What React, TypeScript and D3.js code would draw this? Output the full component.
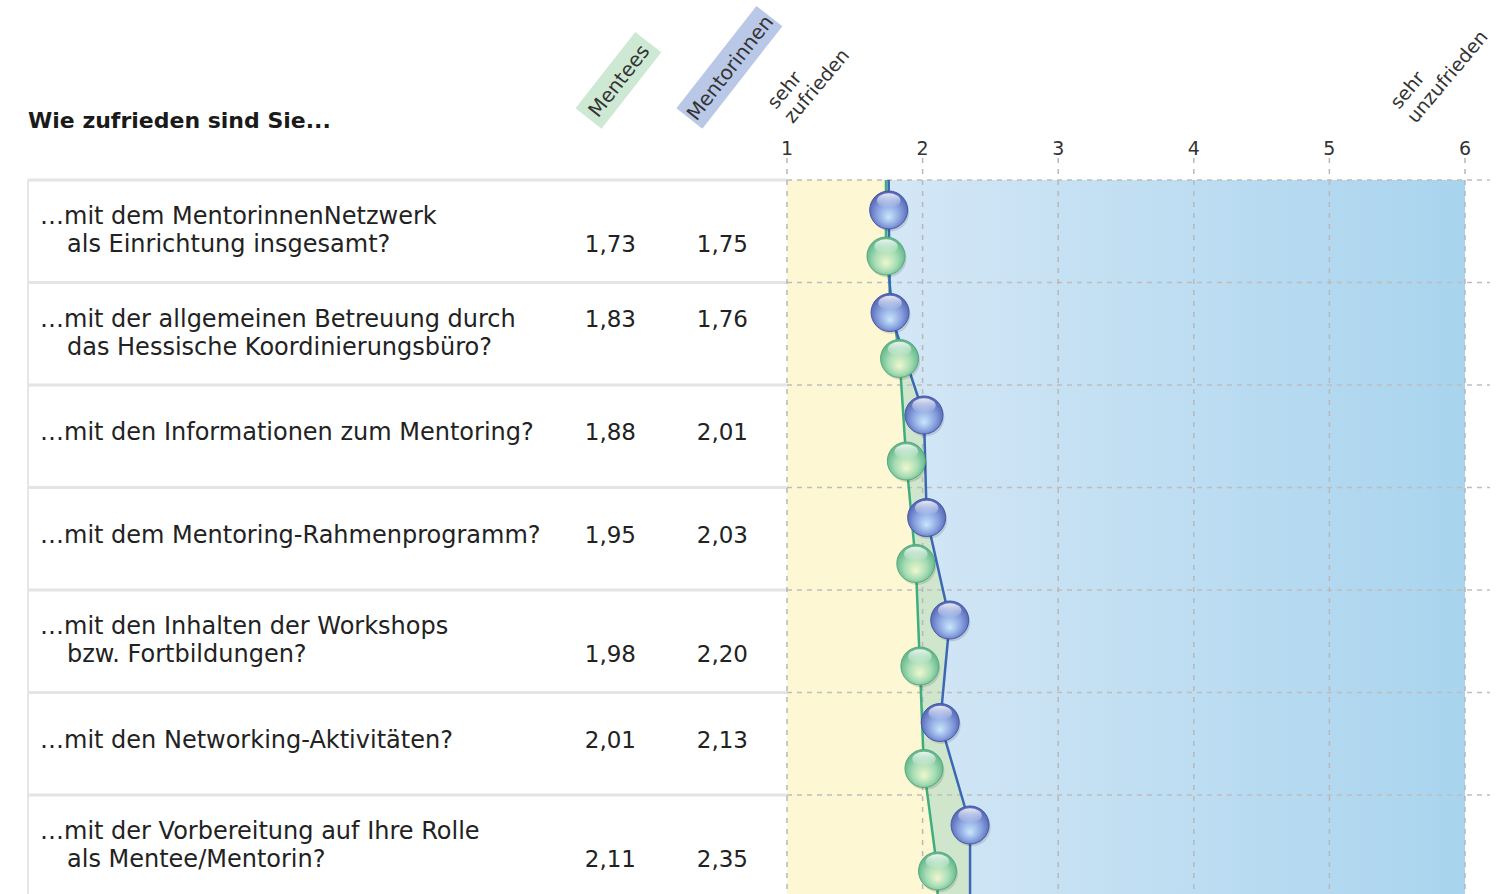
import React from 'react';
import * as d3 from 'd3';

const W = 1499;
const H = 894;

const title = 'Wie zufrieden sind Sie...';
const questions = [
  ['…mit dem MentorinnenNetzwerk', 'als Einrichtung insgesamt?'],
  ['…mit der allgemeinen Betreuung durch', 'das Hessische Koordinierungsbüro?'],
  ['…mit den Informationen zum Mentoring?'],
  ['…mit dem Mentoring-Rahmenprogramm?'],
  ['…mit den Inhalten der Workshops', 'bzw. Fortbildungen?'],
  ['…mit den Networking-Aktivitäten?'],
  ['…mit der Vorbereitung auf Ihre Rolle', 'als Mentee/Mentorin?'],
];
const menteesValues = [1.73, 1.83, 1.88, 1.95, 1.98, 2.01, 2.11];
const mentorinnenValues = [1.75, 1.76, 2.01, 2.03, 2.2, 2.13, 2.35];
const seriesNames = ['Mentees', 'Mentorinnen'];
const tickValues = [1, 2, 3, 4, 5, 6];
const scaleEnds = [['sehr', 'zufrieden'], ['sehr', 'unzufrieden']];
// which text line the numbers sit on
const valueLine = [1, 0, 0, 0, 1, 0, 1];

const FONT = '"DejaVu Sans", sans-serif';

const fmt = (v: number) => v.toFixed(2).replace('.', ',');

export default function App() {
  const x = d3.scaleLinear().domain([1, 6]).range([787, 1465]);
  const rows = d3.scaleBand<number>().domain(d3.range(questions.length)).range([180, 180 + 7 * 102.5]);
  const top = 180;
  const bottom = H;

  const bluePts: [number, number][] = [[x(mentorinnenValues[0]), top]];
  mentorinnenValues.forEach((v, i) => bluePts.push([x(v), rows(i)! + 30]));
  bluePts.push([x(mentorinnenValues[mentorinnenValues.length - 1]), bottom]);

  const greenPts: [number, number][] = [[x(menteesValues[0]), top]];
  menteesValues.forEach((v, i) => greenPts.push([x(v), rows(i)! + 76]));
  greenPts.push([x(menteesValues[menteesValues.length - 1]), bottom]);

  const line = d3.line();
  const yellowPoly = [[x(1), top] as [number, number], ...greenPts, [x(1), bottom] as [number, number]];
  const betweenPoly = [...greenPts, ...bluePts.slice().reverse()];

  const sep = d3.range(questions.length).map((i) => rows(i)!);

  return (
    <svg width={W} height={H} style={{ position: 'absolute', left: 0, top: 0, background: '#fff' }}>
      <defs>
        <linearGradient id="bg" x1="0" x2="1" y1="0" y2="0">
          <stop offset="0%" stopColor="#dbeaf7" />
          <stop offset="100%" stopColor="#a9d4ee" />
        </linearGradient>
        <radialGradient id="ballBlue" cx="50%" cy="55%" r="55%" fx="50%" fy="70%">
          <stop offset="0%" stopColor="#c9e6fb" />
          <stop offset="55%" stopColor="#8aa3e0" />
          <stop offset="100%" stopColor="#5062b2" />
        </radialGradient>
        <radialGradient id="ballGreen" cx="50%" cy="55%" r="55%" fx="50%" fy="70%">
          <stop offset="0%" stopColor="#eef7cf" />
          <stop offset="55%" stopColor="#a6dcb4" />
          <stop offset="100%" stopColor="#5bb386" />
        </radialGradient>
        <linearGradient id="hl" x1="0" x2="0" y1="0" y2="1">
          <stop offset="0%" stopColor="#fff" stopOpacity="0.85" />
          <stop offset="100%" stopColor="#fff" stopOpacity="0" />
        </linearGradient>
      </defs>

      {/* title */}
      <text x={28} y={128} fontFamily={FONT} fontWeight="bold" fontSize={22} fill="#1a1a1a">
        {title}
      </text>

      {/* series header boxes */}
      {seriesNames.map((name, i) => {
        const cx = i === 0 ? 618 : 729;
        const cy = i === 0 ? 80 : 67;
        const len = i === 0 ? 97 : 130;
        return (
          <g key={name} transform={`translate(${cx},${cy}) rotate(-52)`}>
            <rect x={-len / 2} y={-16} width={len} height={33} fill={i === 0 ? '#cde9d3' : '#bac8e8'} />
            <text x={0} y={8} textAnchor="middle" fontFamily={FONT} fontSize={20} fill="#333">
              {name}
            </text>
          </g>
        );
      })}

      {/* scale end labels */}
      {scaleEnds.map((lines, i) => (
        <g key={i} transform={`translate(${i === 0 ? 776 : 1399},${110}) rotate(-50)`}>
          <text fontFamily={FONT} fontSize={19} fill="#333">
            {lines.map((t, j) => (
              <tspan key={j} x={0} y={j * 22}>
                {t}
              </tspan>
            ))}
          </text>
        </g>
      ))}

      {/* chart background */}
      <rect x={x(1)} y={top} width={x(6) - x(1)} height={bottom - top} fill="url(#bg)" />
      <path d={line(yellowPoly)! + 'Z'} fill="#fdf8d3" />
      <path d={line(betweenPoly)! + 'Z'} fill="#cfe6cc" />

      {/* table separators */}
      <line x1={28} x2={28} y1={top} y2={bottom} stroke="#e6e6e6" strokeWidth={2} />
      {sep.map((y, i) => (
        <g key={i}>
          <line x1={28} x2={x(1)} y1={y} y2={y} stroke="#e4e4e4" strokeWidth={3} />
          <line x1={x(1)} x2={1490} y1={y} y2={y} stroke="#bdbdbd" strokeWidth={1.5} strokeDasharray="5,5" />
        </g>
      ))}

      {/* vertical grid + ticks */}
      {tickValues.map((t) => (
        <g key={t}>
          <line x1={x(t)} x2={x(t)} y1={158} y2={bottom} stroke="#b8b8b8" strokeWidth={1.5} strokeDasharray="5,6" />
          <text x={x(t)} y={155} textAnchor="middle" fontFamily={FONT} fontSize={19} fill="#333">
            {t}
          </text>
        </g>
      ))}

      {/* lines */}
      <path d={line(greenPts)!} fill="none" stroke="#3fae7e" strokeWidth={2.5} />
      <path d={line(bluePts)!} fill="none" stroke="#3a68b4" strokeWidth={2.5} />

      {/* markers */}
      {mentorinnenValues.map((v, i) => (
        <Ball key={'b' + i} cx={x(v)} cy={rows(i)! + 30} fill="url(#ballBlue)" stroke="#4657a8" />
      ))}
      {menteesValues.map((v, i) => (
        <Ball key={'g' + i} cx={x(v)} cy={rows(i)! + 76} fill="url(#ballGreen)" stroke="#56a97e" />
      ))}

      {/* question labels + values */}
      {questions.map((lines, i) => {
        const y0 = rows(i)!;
        const center = y0 + 50;
        const lh = 28;
        const first = lines.length === 1 ? center - 3 : center - lh / 2;
        const vy = first + valueLine[i] * lh;
        return (
          <g key={i} fontFamily={FONT} fill="#222">
            <text fontSize={24}>
              {lines.map((t, j) => (
                <tspan key={j} x={j === 0 ? 40 : 67} y={first + j * lh} dy="0.35em">
                  {t}
                </tspan>
              ))}
            </text>
            <text x={636} y={vy} dy="0.35em" textAnchor="end" fontSize={23}>
              {fmt(menteesValues[i])}
            </text>
            <text x={748} y={vy} dy="0.35em" textAnchor="end" fontSize={23}>
              {fmt(mentorinnenValues[i])}
            </text>
          </g>
        );
      })}
    </svg>
  );
}

function Ball({ cx, cy, fill, stroke }: { cx: number; cy: number; fill: string; stroke: string }) {
  const r = 19;
  return (
    <g>
      <circle cx={cx + 1.5} cy={cy + 2.5} r={r} fill="#000" opacity={0.12} />
      <circle cx={cx} cy={cy} r={r} fill={fill} stroke={stroke} strokeWidth={1} />
      <ellipse cx={cx} cy={cy - r * 0.5} rx={r * 0.62} ry={r * 0.38} fill="url(#hl)" />
    </g>
  );
}
